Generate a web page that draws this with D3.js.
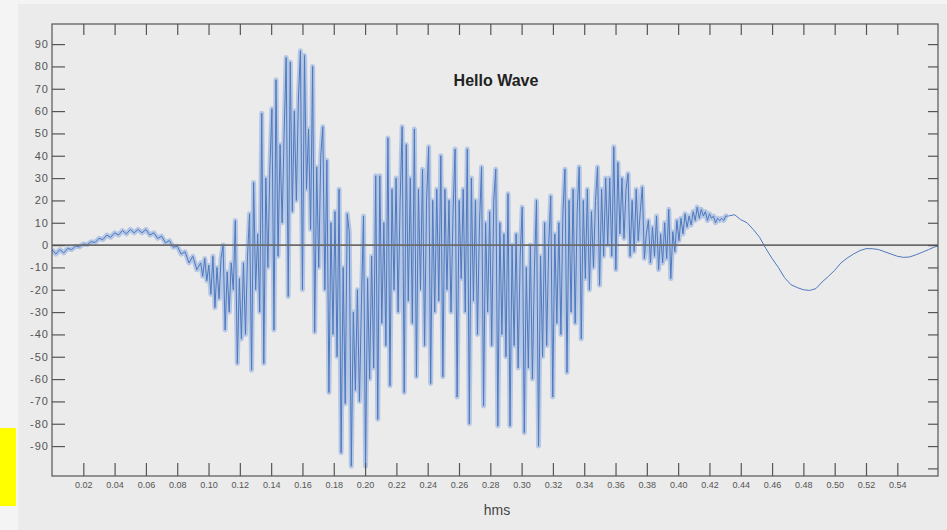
<!DOCTYPE html>
<html>
<head>
<meta charset="utf-8">
<script src="https://d3js.org/d3.v7.min.js"></script>
<style>
  body { margin: 0; background: #f4f4f4; }
  text { font-family: "Liberation Sans", Arial, sans-serif; }
</style>
</head>
<body>
<script>

// parte iniziale lenta (gobba prima della voce)
const humpStart = 0, humpStep = 0.0025;
const hump = [-2, -4, -2, -3.5, -1.5, -2, -0.5, -0.8, 0.5, 0.2, 1.5, 1.2, 3, 2.5, 4.5, 3.5,
  5.5, 4.5, 6.5, 5, 7, 5.5, 7, 5.5, 7, 4.5, 5.5, 3, 4, 1, 2, -1, -0.5, -4, -3, -8, -5, -11];

// parte sonora, molto densa
const voicedStart = 0.095, voicedStep = 0.0013;
const voiced = [
  -8, -14, -6, -16, -9, -22, -5, -28, -10, -24, -6, 0, -38, -12, -30, -8, -20, 11, -53, -15,
  -42, -8, -40, -5, 14, -56, 28, -20, 5, -30, 59, -53, 30, -10, 35, 61, -38, 74, -5, 45,
  10, 50, 84, -23, 82, 15, 60, 20, 65, 87, -20, 85, 25, 52, 7, 80, -39, 35, -10, 40,
  53, -20, 38, -66, 10, -40, 15, -50, 25, -93, -10, -71, 14, 6, -99, -30, -65, -20, -70, -25,
  13, -99, -15, -60, -5, -55, 31, -78, 31, -35, 10, -45, 48, -63, 25, -20, 30, -30, 20, 53,
  -66, 45, -25, 30, -35, 52, -59, 25, -20, 34, -45, 20, 44, -62, 20, -30, 25, -25, 40, -59,
  25, -20, 20, -30, 15, 43, -68, 20, -15, 25, -30, 43, -80, 30, -25, 20, -40, 10, 35, -72,
  10, -30, 15, -45, 20, 34, -81, 10, -40, 5, -50, 23, -81, 0, -45, 5, -55, -5, 17, -84,
  -10, -55, 0, -60, -10, 20, -90, -5, -50, 10, -45, 0, 22, -68, 5, -35, 10, -40, 15, 34,
  -57, 20, -30, 25, -35, 15, 35, -42, 20, -15, 25, -20, 15, -10, 20, 35, -18, 25, -5, 30,
  0, 30, -5, 44, -11, 37, 5, 30, 3, 25, 32, -5, 20, -3, 25, 2, 15, 26, -6, 5,
  11, -8, 8, -5, 13, -11, 5, -8, 10, -6, 16, -15, 6, -3, 11, 2, 12, 5, 14, 8,
  13, 9, 15, 11, 17, 12, 16, 13, 15, 11, 14, 12, 13, 10, 12, 11, 12, 11, 13, 13];

// coda lenta finale
const tailStart = 0.432, tailStep = 0.004;
const tail = [13, 13.6, 11.4, 10, 7, 3.5, -1.5, -6, -10, -14.6, -17.7, -19, -20, -20.3, -19.5,
  -16.5, -14, -11.3, -8, -5.8, -4, -2.5, -1.6, -1.6, -2, -3, -4, -5, -5.5, -5.3, -4.3, -3.2,
  -2, -0.8, 0];

const xTickValues = [0.02, 0.04, 0.06, 0.08, 0.10, 0.12, 0.14, 0.16, 0.18, 0.20, 0.22, 0.24, 0.26,
  0.28, 0.30, 0.32, 0.34, 0.36, 0.38, 0.40, 0.42, 0.44, 0.46, 0.48, 0.50, 0.52, 0.54];
const yTickValues = [-90, -80, -70, -60, -50, -40, -30, -20, -10, 0, 10, 20, 30, 40, 50, 60, 70, 80, 90];

const width = 947;
const height = 530;

// riquadro del grafico
const frame = { left: 52, right: 938, top: 24, bottom: 476 };

var xScale = d3.scaleLinear().domain([0, 0.566]).range([frame.left, frame.right]);
var yScale = d3.scaleLinear().domain([-103.4, 99]).range([frame.bottom, frame.top]);

function toPoints(start, step, values) {
  return values.map((v, i) => [start + i * step, v]);
}

var soundPart = toPoints(humpStart, humpStep, hump)
  .concat(toPoints(voicedStart, voicedStep, voiced));
var wave = soundPart.concat(toPoints(tailStart, tailStep, tail));

var svg = d3.select("body")
  .append("svg")
  .attr("width", width)
  .attr("height", height);

// sfondo grigio della scansione
svg.append("rect")
  .attr("x", 18).attr("y", 4)
  .attr("width", width - 18).attr("height", height - 4)
  .style("fill", "#ebebeb");

svg.append("clipPath").attr("id", "plotClip")
  .append("rect")
  .attr("x", frame.left).attr("y", frame.top)
  .attr("width", frame.right - frame.left).attr("height", frame.bottom - frame.top);

// onda
var line = d3.line()
  .x(d => xScale(d[0]))
  .y(d => yScale(d[1]));

// alone chiaro sotto la linea (la scansione la rende sfumata)
svg.append("path")
  .datum(soundPart)
  .attr("d", line)
  .attr("clip-path", "url(#plotClip)")
  .style("fill", "none")
  .style("stroke", "#88a9e0")
  .style("stroke-width", 5)
  .style("stroke-opacity", 0.55)
  .style("stroke-linejoin", "round");

svg.append("path")
  .datum(wave)
  .attr("d", line)
  .attr("clip-path", "url(#plotClip)")
  .style("fill", "none")
  .style("stroke", "#4f79bd")
  .style("stroke-width", 1)
  .style("stroke-linejoin", "round");

// linea dello zero
svg.append("line")
  .attr("x1", frame.left).attr("x2", frame.right)
  .attr("y1", yScale(0)).attr("y2", yScale(0))
  .style("stroke", "#6b6b6b")
  .style("stroke-width", 1.6);

// assi con tacche verso l'interno
var bottomAxis = svg.append("g")
  .attr("transform", "translate(0," + frame.bottom + ")")
  .call(d3.axisBottom(xScale).tickValues(xTickValues).tickSize(-13).tickPadding(6)
    .tickFormat(d3.format(".2f")));

var topAxis = svg.append("g")
  .attr("transform", "translate(0," + frame.top + ")")
  .call(d3.axisTop(xScale).tickValues(xTickValues).tickSize(-11).tickFormat(""));

var leftAxis = svg.append("g")
  .attr("transform", "translate(" + frame.left + ",0)")
  .call(d3.axisLeft(yScale).tickValues(yTickValues).tickSize(-13).tickPadding(3)
    .tickFormat(d => String(d)));

var rightAxis = svg.append("g")
  .attr("transform", "translate(" + frame.right + ",0)")
  .call(d3.axisRight(yScale).tickValues(yTickValues.concat([-100])).tickSize(-10).tickFormat(""));

[bottomAxis, topAxis, leftAxis, rightAxis].forEach(g => {
  g.select(".domain").remove();
  g.selectAll(".tick line").style("stroke", "#555").style("stroke-width", 1.2);
});

bottomAxis.selectAll("text")
  .style("font-size", "9px")
  .style("fill", "#555");

leftAxis.selectAll("text")
  .style("font-size", "11px")
  .style("letter-spacing", "1px")
  .style("fill", "#555");

// cornice
svg.append("rect")
  .attr("x", frame.left).attr("y", frame.top)
  .attr("width", frame.right - frame.left).attr("height", frame.bottom - frame.top)
  .style("fill", "none")
  .style("stroke", "#555")
  .style("stroke-width", 1.2);

// titolo ed etichetta asse x
svg.append("text")
  .text("Hello Wave")
  .attr("x", 496).attr("y", 86)
  .attr("text-anchor", "middle")
  .style("font-size", "16px")
  .style("font-weight", "bold")
  .style("fill", "#222");

svg.append("text")
  .text("hms")
  .attr("x", 497).attr("y", 515)
  .attr("text-anchor", "middle")
  .style("font-size", "14px")
  .style("fill", "#444");

// rettangolo giallo in basso a sinistra
svg.append("rect")
  .attr("x", 0).attr("y", 428)
  .attr("width", 16).attr("height", 78)
  .style("fill", "#ffff00");
</script>
</body>
</html>
